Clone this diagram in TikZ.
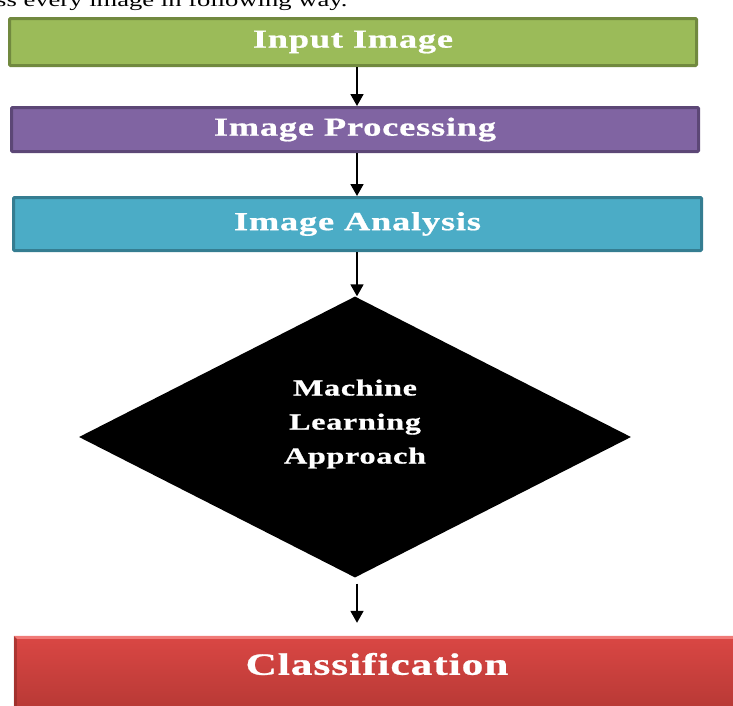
\documentclass[tikz,border=0pt]{standalone}
\usepackage{fontspec}
\setmainfont{Liberation Serif}
\newfontfamily\boxfont[FakeStretch=1.4,LetterSpace=3,FakeBold=0.8]{Liberation Serif Bold}
\newfontfamily\runfont[FakeStretch=1.4]{Liberation Serif}
\usetikzlibrary{shapes.geometric,arrows.meta,calc}
\definecolor{gfill}{HTML}{9BBB59}
\definecolor{gedge}{HTML}{71893F}
\definecolor{pfill}{HTML}{8064A2}
\definecolor{pedge}{HTML}{5C4776}
\definecolor{bfill}{HTML}{4BACC6}
\definecolor{bedge}{HTML}{357D91}
\definecolor{rtop}{HTML}{DA4744}
\definecolor{rbot}{HTML}{A9332F}
\definecolor{rlight}{HTML}{F07A77}
\begin{document}
\begin{tikzpicture}[x=1pt,y=-1pt,
  procbox/.style={rectangle, line width=3pt, rounded corners=1pt, inner sep=0pt,
     text=white, font=\boxfont\fontsize{26}{30}\selectfont},
  arr/.style={line width=1.8pt, -{Triangle[width=13pt,length=12pt]}}]
\useasboundingbox (0,0) rectangle (733,705);
\clip (0,0) rectangle (733,705);
\node[anchor=base west, inner sep=0pt, font=\runfont\fontsize{19}{22}\selectfont] (intro) at (-4,6) {ss every image in following way.};
\node[procbox, draw=gedge, fill=gfill, minimum width=687pt, minimum height=47pt] (inp) at (353,42) {Input Image};
\node[procbox, draw=pedge, fill=pfill, minimum width=687pt, minimum height=44pt] (proc) at (355,129.5) {Image Processing};
\node[procbox, draw=bedge, fill=bfill, minimum width=688pt, minimum height=53pt] (ana) at (357.5,224) {Image Analysis};
\node[diamond, fill=black, inner sep=0pt, minimum width=552pt, minimum height=281pt, aspect=1.96] (ml) at (355,437) {};
\node[align=center, text=white, font=\boxfont\fontsize{23}{34}\selectfont] (mltext) at (355,424) {Machine\\Learning\\Approach};
\node[rectangle, inner sep=0pt, minimum width=746pt, minimum height=104pt, top color=rtop, bottom color=rbot] (cls) at (387,688) {};
\fill[rlight] (cls.north west) -- (cls.north east) -- ++(0,3) -- ($(cls.north west)+(3,3)$) -- cycle;
\fill[rbot!80!black, opacity=0.5] (cls.north west) -- ($(cls.north west)+(3,3)$) -- ($(cls.south west)+(3,0)$) -- (cls.south west) -- cycle;
\node[text=white, font=\boxfont\fontsize{31}{35}\selectfont] (clstext) at (377,664) {Classification};
\coordinate (ax) at (357,0);
\draw[arr] (inp.south -| ax) -- (proc.north -| ax);
\draw[arr] (proc.south -| ax) -- (ana.north -| ax);
\draw[arr] (ana.south -| ax) -- (ml.north -| ax);
\draw[arr, shorten <=6pt, shorten >=13pt] (ml.south -| ax) -- (cls.north -| ax);
\end{tikzpicture}
\end{document}
